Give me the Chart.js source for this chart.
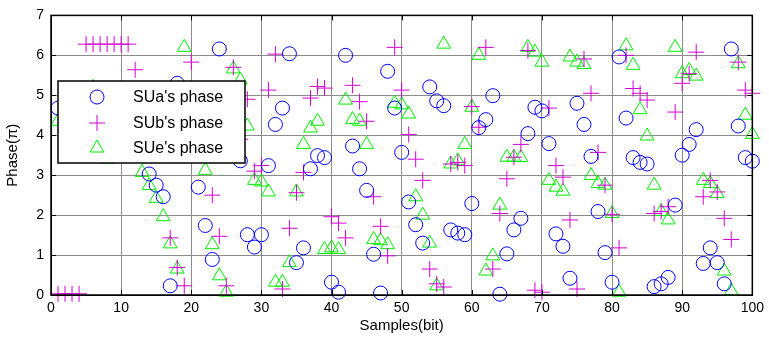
<!DOCTYPE html>
<html>
<head>
<meta charset="utf-8">
<script src="https://cdn.jsdelivr.net/npm/chart.js@4.4.0/dist/chart.umd.min.js"></script>
<style>
  html, body { margin: 0; padding: 0; background: #fff; }
</style>
</head>
<body>
<canvas id="phase-chart" width="769" height="345"></canvas>
<script>
// sample index (bit) 1..100
const samples = [
  1, 2, 3, 4, 5, 6, 7, 8, 9, 10, 11, 12, 13, 14, 15, 16, 17, 18, 19, 20,
  21, 22, 23, 24, 25, 26, 27, 28, 29, 30, 31, 32, 33, 34, 35, 36, 37, 38, 39, 40,
  41, 42, 43, 44, 45, 46, 47, 48, 49, 50, 51, 52, 53, 54, 55, 56, 57, 58, 59, 60,
  61, 62, 63, 64, 65, 66, 67, 68, 69, 70, 71, 72, 73, 74, 75, 76, 77, 78, 79, 80,
  81, 82, 83, 84, 85, 86, 87, 88, 89, 90, 91, 92, 93, 94, 95, 96, 97, 98, 99, 100
];

// phases in units of pi
const suaPhase = [
  4.68, 4.1, 3.6, 5.0, 3.9, 4.5, 3.5, 4.8, 4.2, 3.7, 5.1, 4.4, 3.8, 3.03, 2.75, 2.46, 0.23, 5.3, 4.0, 4.9,
  2.7, 1.74, 0.89, 6.16, 3.6, 4.5, 3.36, 1.51, 1.2, 1.51, 3.24, 4.27, 4.68, 6.04, 0.81, 1.18, 3.16, 3.49, 3.44, 0.32,
  0.07, 6.0, 3.73, 3.16, 2.62, 1.02, 0.05, 5.6, 4.68, 3.57, 2.33, 1.76, 1.3, 5.21, 4.86, 4.74, 1.63, 1.55, 1.51, 2.29,
  4.19, 4.39, 4.99, 0.02, 1.03, 1.63, 1.92, 4.04, 4.7, 4.61, 3.79, 1.53, 1.22, 0.42, 4.8, 4.27, 3.47, 2.09, 1.06, 0.32,
  5.96, 4.43, 3.44, 3.32, 3.28, 0.21, 0.28, 0.44, 2.25, 3.5, 3.77, 4.14, 0.79, 1.18, 0.81, 0.28, 6.16, 4.23, 3.44, 3.35
];
const subPhase = [
  0.03, 0.03, 0.03, 0.03, 6.28, 6.28, 6.28, 6.28, 6.28, 6.28, 6.28, 5.64, 4.5, 3.9, 5.0, 4.2, 1.43, 0.69, 0.23, 5.83,
  4.6, 3.8, 2.5, 1.47, 0.23, 5.7, 3.9, 4.9, 3.1, 3.24, 5.13, 6.03, 0.15, 1.67, 2.56, 3.07, 4.93, 5.22, 5.18, 1.96,
  1.8, 1.43, 5.25, 4.84, 4.35, 2.46, 1.72, 0.98, 6.2, 5.13, 4.02, 3.4, 2.87, 0.65, 0.28, 0.2, 3.28, 3.32, 3.24, 4.72,
  4.2, 6.2, 0.65, 2.04, 2.91, 3.45, 3.77, 6.12, 0.12, 0.07, 4.68, 3.24, 2.95, 1.88, 0.15, 5.91, 5.05, 3.57, 2.75, 2.02,
  1.18, 6.0, 5.17, 5.05, 4.88, 2.04, 2.09, 2.21, 4.58, 5.3, 5.54, 6.08, 2.46, 2.87, 2.58, 1.92, 1.39, 5.83, 5.13, 5.05
];
const suePhase = [
  4.35, 3.5, 4.9, 4.0, 3.7, 5.2, 4.4, 3.4, 4.7, 3.9, 5.0, 4.1, 3.07, 2.74, 2.42, 1.96, 1.28, 0.65, 6.2, 4.0,
  3.6, 3.12, 1.26, 0.48, 0.07, 5.66, 5.38, 4.23, 2.87, 2.83, 2.58, 0.32, 0.32, 0.81, 2.58, 3.77, 4.18, 4.35, 1.14, 1.18,
  1.14, 4.88, 4.39, 4.35, 3.77, 1.39, 1.36, 1.26, 4.8, 4.76, 4.53, 2.46, 2.0, 1.3, 0.23, 6.28, 3.28, 3.36, 3.77, 4.7,
  6.0, 0.6, 0.98, 2.25, 3.45, 3.45, 3.44, 6.2, 6.08, 5.83, 2.87, 2.7, 2.6, 5.96, 5.83, 5.77, 2.99, 2.79, 2.75, 2.04,
  0.07, 6.24, 5.75, 4.64, 3.98, 2.75, 2.09, 1.88, 6.2, 5.54, 5.62, 5.48, 2.87, 2.79, 2.54, 0.6, 0.1, 5.79, 4.5, 4.02
];

const xTicks = [0, 10, 20, 30, 40, 50, 60, 70, 80, 90, 100];
const yTicks = [0, 1, 2, 3, 4, 5, 6, 7];

const FONT = "'Liberation Sans', Arial, sans-serif";
const toPoints = ys => ys.map((y, i) => ({ x: samples[i], y: y }));

const series = [
  { label: "SUa's phase", values: suaPhase, style: 'circle', radius: 7, color: '#0000ff' },
  { label: "SUb's phase", values: subPhase, style: 'cross', radius: 8, color: '#d400d4' },
  { label: "SUe's phase", values: suePhase, style: 'triangle', radius: 8, color: '#00f000' }
];

function marker(ctx, style, x, y, r) {
  ctx.beginPath();
  if (style === 'circle') {
    ctx.arc(x, y, r, 0, Math.PI * 2);
  } else if (style === 'cross') {
    ctx.moveTo(x - r, y); ctx.lineTo(x + r, y);
    ctx.moveTo(x, y - r); ctx.lineTo(x, y + r);
  } else {
    const w = r * Math.sqrt(3) / 2;
    ctx.moveTo(x, y - r); ctx.lineTo(x + w, y + r / 2); ctx.lineTo(x - w, y + r / 2);
    ctx.closePath();
  }
  ctx.stroke();
}

// axes box with inward tick marks, like the matlab figure
const boxPlugin = {
  id: 'box',
  afterDatasetsDraw(chart) {
    const { ctx, chartArea: a, scales } = chart;
    ctx.save();
    ctx.strokeStyle = '#000';
    ctx.lineWidth = 1;
    ctx.beginPath();
    xTicks.forEach(v => {
      const px = Math.round(scales.x.getPixelForValue(v)) + 0.5;
      ctx.moveTo(px, a.bottom); ctx.lineTo(px, a.bottom - 5);
      ctx.moveTo(px, a.top); ctx.lineTo(px, a.top + 5);
    });
    yTicks.forEach(v => {
      const py = Math.round(scales.y.getPixelForValue(v)) + 0.5;
      ctx.moveTo(a.left, py); ctx.lineTo(a.left + 5, py);
      ctx.moveTo(a.right, py); ctx.lineTo(a.right - 5, py);
    });
    ctx.stroke();
    ctx.lineWidth = 1.5;
    ctx.strokeRect(a.left, a.top, a.right - a.left, a.bottom - a.top);
    ctx.restore();
  }
};

// legend box drawn over the points, top-left inside the axes
const legendPlugin = {
  id: 'insideLegend',
  afterDraw(chart) {
    const ctx = chart.ctx;
    const bx = 58, by = 81, bw = 187, bh = 82;
    ctx.save();
    ctx.fillStyle = '#fff';
    ctx.fillRect(bx, by, bw, bh);
    ctx.strokeStyle = '#000';
    ctx.lineWidth = 1.5;
    ctx.strokeRect(bx, by, bw, bh);
    const rows = [97, 123, 148];
    ctx.font = '16px ' + FONT;
    ctx.textBaseline = 'middle';
    series.forEach((s, i) => {
      ctx.strokeStyle = s.color;
      ctx.lineWidth = 1;
      marker(ctx, s.style, 97, rows[i], s.radius);
      ctx.fillStyle = '#000';
      ctx.fillText(s.label, 133, rows[i] + 1);
    });
    ctx.restore();
  }
};

new Chart(document.getElementById('phase-chart'), {
  type: 'scatter',
  data: {
    datasets: series.map(s => ({
      label: s.label,
      data: toPoints(s.values),
      pointStyle: s.style,
      pointRadius: s.radius,
      pointHoverRadius: s.radius,
      pointBorderWidth: 1,
      borderColor: s.color,
      backgroundColor: 'rgba(0,0,0,0)',
      clip: false
    }))
  },
  options: {
    responsive: false,
    animation: false,
    layout: { padding: { top: 11, right: 15, left: 0, bottom: 0 } },
    plugins: {
      legend: { display: false },
      tooltip: { enabled: false }
    },
    scales: {
      x: {
        type: 'linear',
        min: 0,
        max: 100,
        afterBuildTicks: s => { s.ticks = xTicks.map(v => ({ value: v })); },
        afterFit: s => { s.height = 50; },
        ticks: { color: '#000', font: { family: FONT, size: 14 }, padding: 5, maxRotation: 0 },
        grid: { color: '#8c8c8c', lineWidth: 1, drawTicks: false },
        border: { color: '#000' },
        title: {
          display: true,
          text: 'Samples(bit)',
          color: '#000',
          font: { family: FONT, size: 15 },
          padding: { top: 0, bottom: 10 }
        }
      },
      y: {
        min: 0,
        max: 7,
        afterBuildTicks: s => { s.ticks = yTicks.map(v => ({ value: v })); },
        afterFit: s => { s.width = 51; },
        ticks: { color: '#000', font: { family: FONT, size: 14 }, padding: 7 },
        grid: { color: '#8c8c8c', lineWidth: 1, drawTicks: false },
        border: { color: '#000' },
        title: {
          display: true,
          text: 'Phase(π)',
          color: '#000',
          font: { family: FONT, size: 15 },
          padding: { top: 4, bottom: 4 }
        }
      }
    }
  },
  plugins: [boxPlugin, legendPlugin]
});
</script>
</body>
</html>
